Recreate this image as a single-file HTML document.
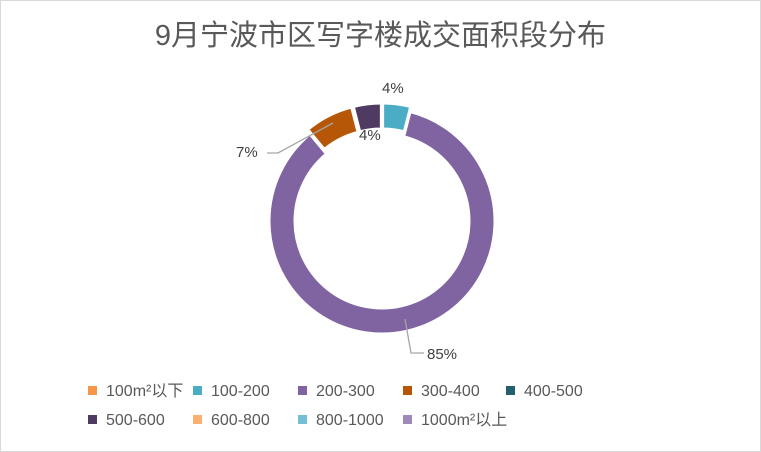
<!DOCTYPE html>
<html><head><meta charset="utf-8"><style>
body{margin:0;background:#fff}
#c{position:relative;width:759px;height:450px;border:1px solid #d9d9d9;background:#fff;font-family:"Liberation Sans","Noto Sans CJK SC",sans-serif;color:#595959;overflow:hidden}
.t{position:absolute;left:0;width:759px;top:16px;text-align:center;font-size:29px;line-height:38px;color:#595959}
.lg{position:absolute;font-size:16px;line-height:20px;height:20px;color:#595959;white-space:nowrap}
.lg i{display:inline-block;width:9px;height:9px;margin-right:9px;vertical-align:1px}
.lb{position:absolute;font-size:15px;line-height:18px;color:#404040}
</style></head><body><div id="c">
<div class="t">9月宁波市区写字楼成交面积段分布</div>
<svg id="s" width="759" height="450" style="position:absolute;left:0;top:0"></svg>
<div class="lb" style="left:381px;top:79px">4%</div>
<div class="lb" style="left:358px;top:126px">4%</div>
<div class="lb" style="left:235px;top:143px">7%</div>
<div class="lb" style="left:426px;top:345px">85%</div>
<div class="lg" style="left:87px;top:381px"><i style="background:#f79646"></i>100m²以下</div>
<div class="lg" style="left:192px;top:381px"><i style="background:#4bacc6"></i>100-200</div>
<div class="lg" style="left:297px;top:381px"><i style="background:#8064a2"></i>200-300</div>
<div class="lg" style="left:402px;top:381px"><i style="background:#b65708"></i>300-400</div>
<div class="lg" style="left:505px;top:381px"><i style="background:#23606e"></i>400-500</div>
<div class="lg" style="left:87px;top:410px"><i style="background:#4f3b62"></i>500-600</div>
<div class="lg" style="left:192px;top:410px"><i style="background:#fbb073"></i>600-800</div>
<div class="lg" style="left:297px;top:410px"><i style="background:#73c0d4"></i>800-1000</div>
<div class="lg" style="left:402px;top:410px"><i style="background:#9e8ab9"></i>1000m²以上</div>
</div>
<script>
var s=document.getElementById('s'),cx=381,cy=220,R=113,r=87;
var seg=[[0,14.4,'#4bacc6'],[14.4,320.4,'#8064a2'],[320.4,345.6,'#b65708'],[345.6,360,'#4f3b62']];
function p(a,rad){a=(a-90)*Math.PI/180;return [cx+rad*Math.cos(a),cy+rad*Math.sin(a)];}
var h='';
seg.forEach(function(g){var m=(g[0]+g[1])/2,off=g[1]-g[0]<50?5:0;
var dx=off*Math.cos((m-90)*Math.PI/180),dy=off*Math.sin((m-90)*Math.PI/180);
var l=g[1]-g[0]>180?1:0,a=p(g[0],R),b=p(g[1],R),c=p(g[1],r),d=p(g[0],r);
h+='<path transform="translate('+dx+','+dy+')" d="M'+a+'A'+R+','+R+' 0 '+l+' 1 '+b+'L'+c+'A'+r+','+r+' 0 '+l+' 0 '+d+'Z" fill="'+g[2]+'" stroke="#fff" stroke-width="3"/>';});
h+='<polyline points="266,152 277,152 332,122" fill="none" stroke="#a6a6a6" stroke-width="1.3"/>';
h+='<polyline points="404,318 410,352 423,352" fill="none" stroke="#a6a6a6" stroke-width="1.3"/>';
s.innerHTML=h;
</script>
</body></html>
